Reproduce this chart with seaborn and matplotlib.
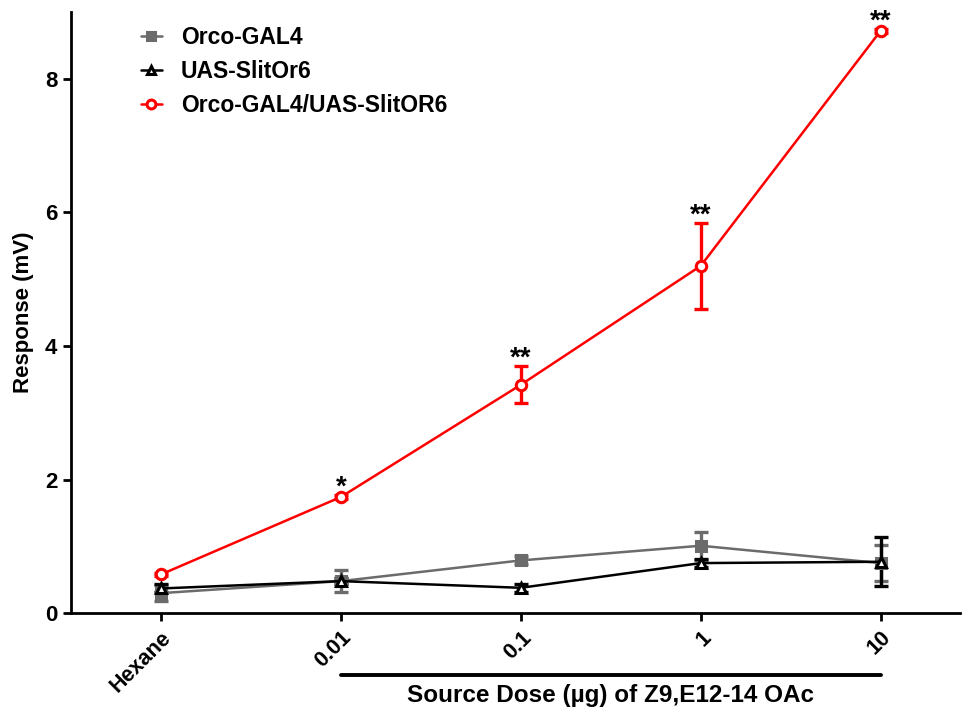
import matplotlib
matplotlib.use("Agg")
import matplotlib.pyplot as plt
import matplotlib.transforms as mtransforms
import numpy as np
import pandas as pd
import seaborn as sns

# Dose levels and responses (mean ± SEM, mV)
doses = ["Hexane", "0.01", "0.1", "1", "10"]

orco_mean = [0.30, 0.48, 0.79, 1.01, 0.75]
orco_sem = [0.12, 0.17, 0.06, 0.21, 0.27]

uas_mean = [0.37, 0.48, 0.38, 0.75, 0.77]
uas_sem = [0.06, 0.04, 0.06, 0.06, 0.37]

cross_mean = [0.58, 1.74, 3.42, 5.20, 8.72]
cross_sem = [0.02, 0.03, 0.28, 0.64, 0.03]

signif = ["", "*", "**", "**", "**"]

sns.set_theme(style="ticks")
plt.rcParams["font.family"] = ["Liberation Sans", "DejaVu Sans"]
plt.rcParams["font.weight"] = "bold"
plt.rcParams["text.color"] = "black"
plt.rcParams["axes.labelcolor"] = "black"

fig = plt.figure(figsize=(9.65, 7.13), dpi=100)
ax = fig.add_axes([0.0736, 0.140, 0.921, 0.843])

x = np.arange(len(doses))

series = [
    ("Orco-GAL4", orco_mean, orco_sem, "#6b6b6b", "s", "#6b6b6b"),
    ("UAS-SlitOr6", uas_mean, uas_sem, "black", "^", "white"),
    ("Orco-GAL4/UAS-SlitOR6", cross_mean, cross_sem, "#ff0000", "o", "white"),
]

for label, mean, sem, color, marker, face in series:
    df = pd.DataFrame({"x": x, "y": mean})
    ax.errorbar(x, mean, yerr=sem, fmt="none", ecolor=color, elinewidth=2.4,
                capsize=5, capthick=2.4, zorder=2)
    sns.lineplot(data=df, x="x", y="y", ax=ax, color=color, linewidth=1.8,
                 marker=marker, markersize=7.5, markerfacecolor=face,
                 markeredgecolor=color, markeredgewidth=2.2, label=label,
                 zorder=3)

for xi, m, s, txt in zip(x, cross_mean, cross_sem, signif):
    if txt:
        ax.text(xi, m + s - 0.08, txt, ha="center", va="bottom",
                fontsize=20, fontweight="bold", color="black")

ax.set_xlim(-0.5, 4.44)
ax.set_ylim(0, 9.0)
ax.set_yticks([0, 2, 4, 6, 8])
ax.set_xticks(x)
ax.set_xticklabels(doses, rotation=45, ha="right", rotation_mode="anchor",
                   fontsize=15.5, fontweight="bold")
for lbl in ax.get_yticklabels():
    lbl.set_fontsize(16)
    lbl.set_fontweight("bold")
ax.set_xlabel("")
ax.set_ylabel("Response (mV)", fontsize=16, fontweight="bold", labelpad=8)

for side in ["top", "right"]:
    ax.spines[side].set_visible(False)
for side in ["left", "bottom"]:
    ax.spines[side].set_linewidth(2)
    ax.spines[side].set_color("black")
ax.tick_params(axis="both", width=2, length=6, color="black", labelcolor="black",
               pad=4)

# bracket under the dose ticks with its caption
trans = mtransforms.blended_transform_factory(ax.transData, ax.transAxes)
ax.plot([1, 4], [-0.103, -0.103], transform=trans, color="black", lw=2.8,
        clip_on=False)
ax.text(2.5, -0.118, "Source Dose (\u00b5g) of Z9,E12-14 OAc", transform=trans,
        ha="center", va="top", fontsize=17.5, fontweight="bold")

leg = ax.legend(loc="upper left", bbox_to_anchor=(0.055, 1.012), frameon=False,
                handlelength=0.95, handletextpad=0.8, labelspacing=0.48,
                markerscale=0.85, prop={"weight": "bold", "size": 16.5})

fig.savefig("out.png", dpi=100)
